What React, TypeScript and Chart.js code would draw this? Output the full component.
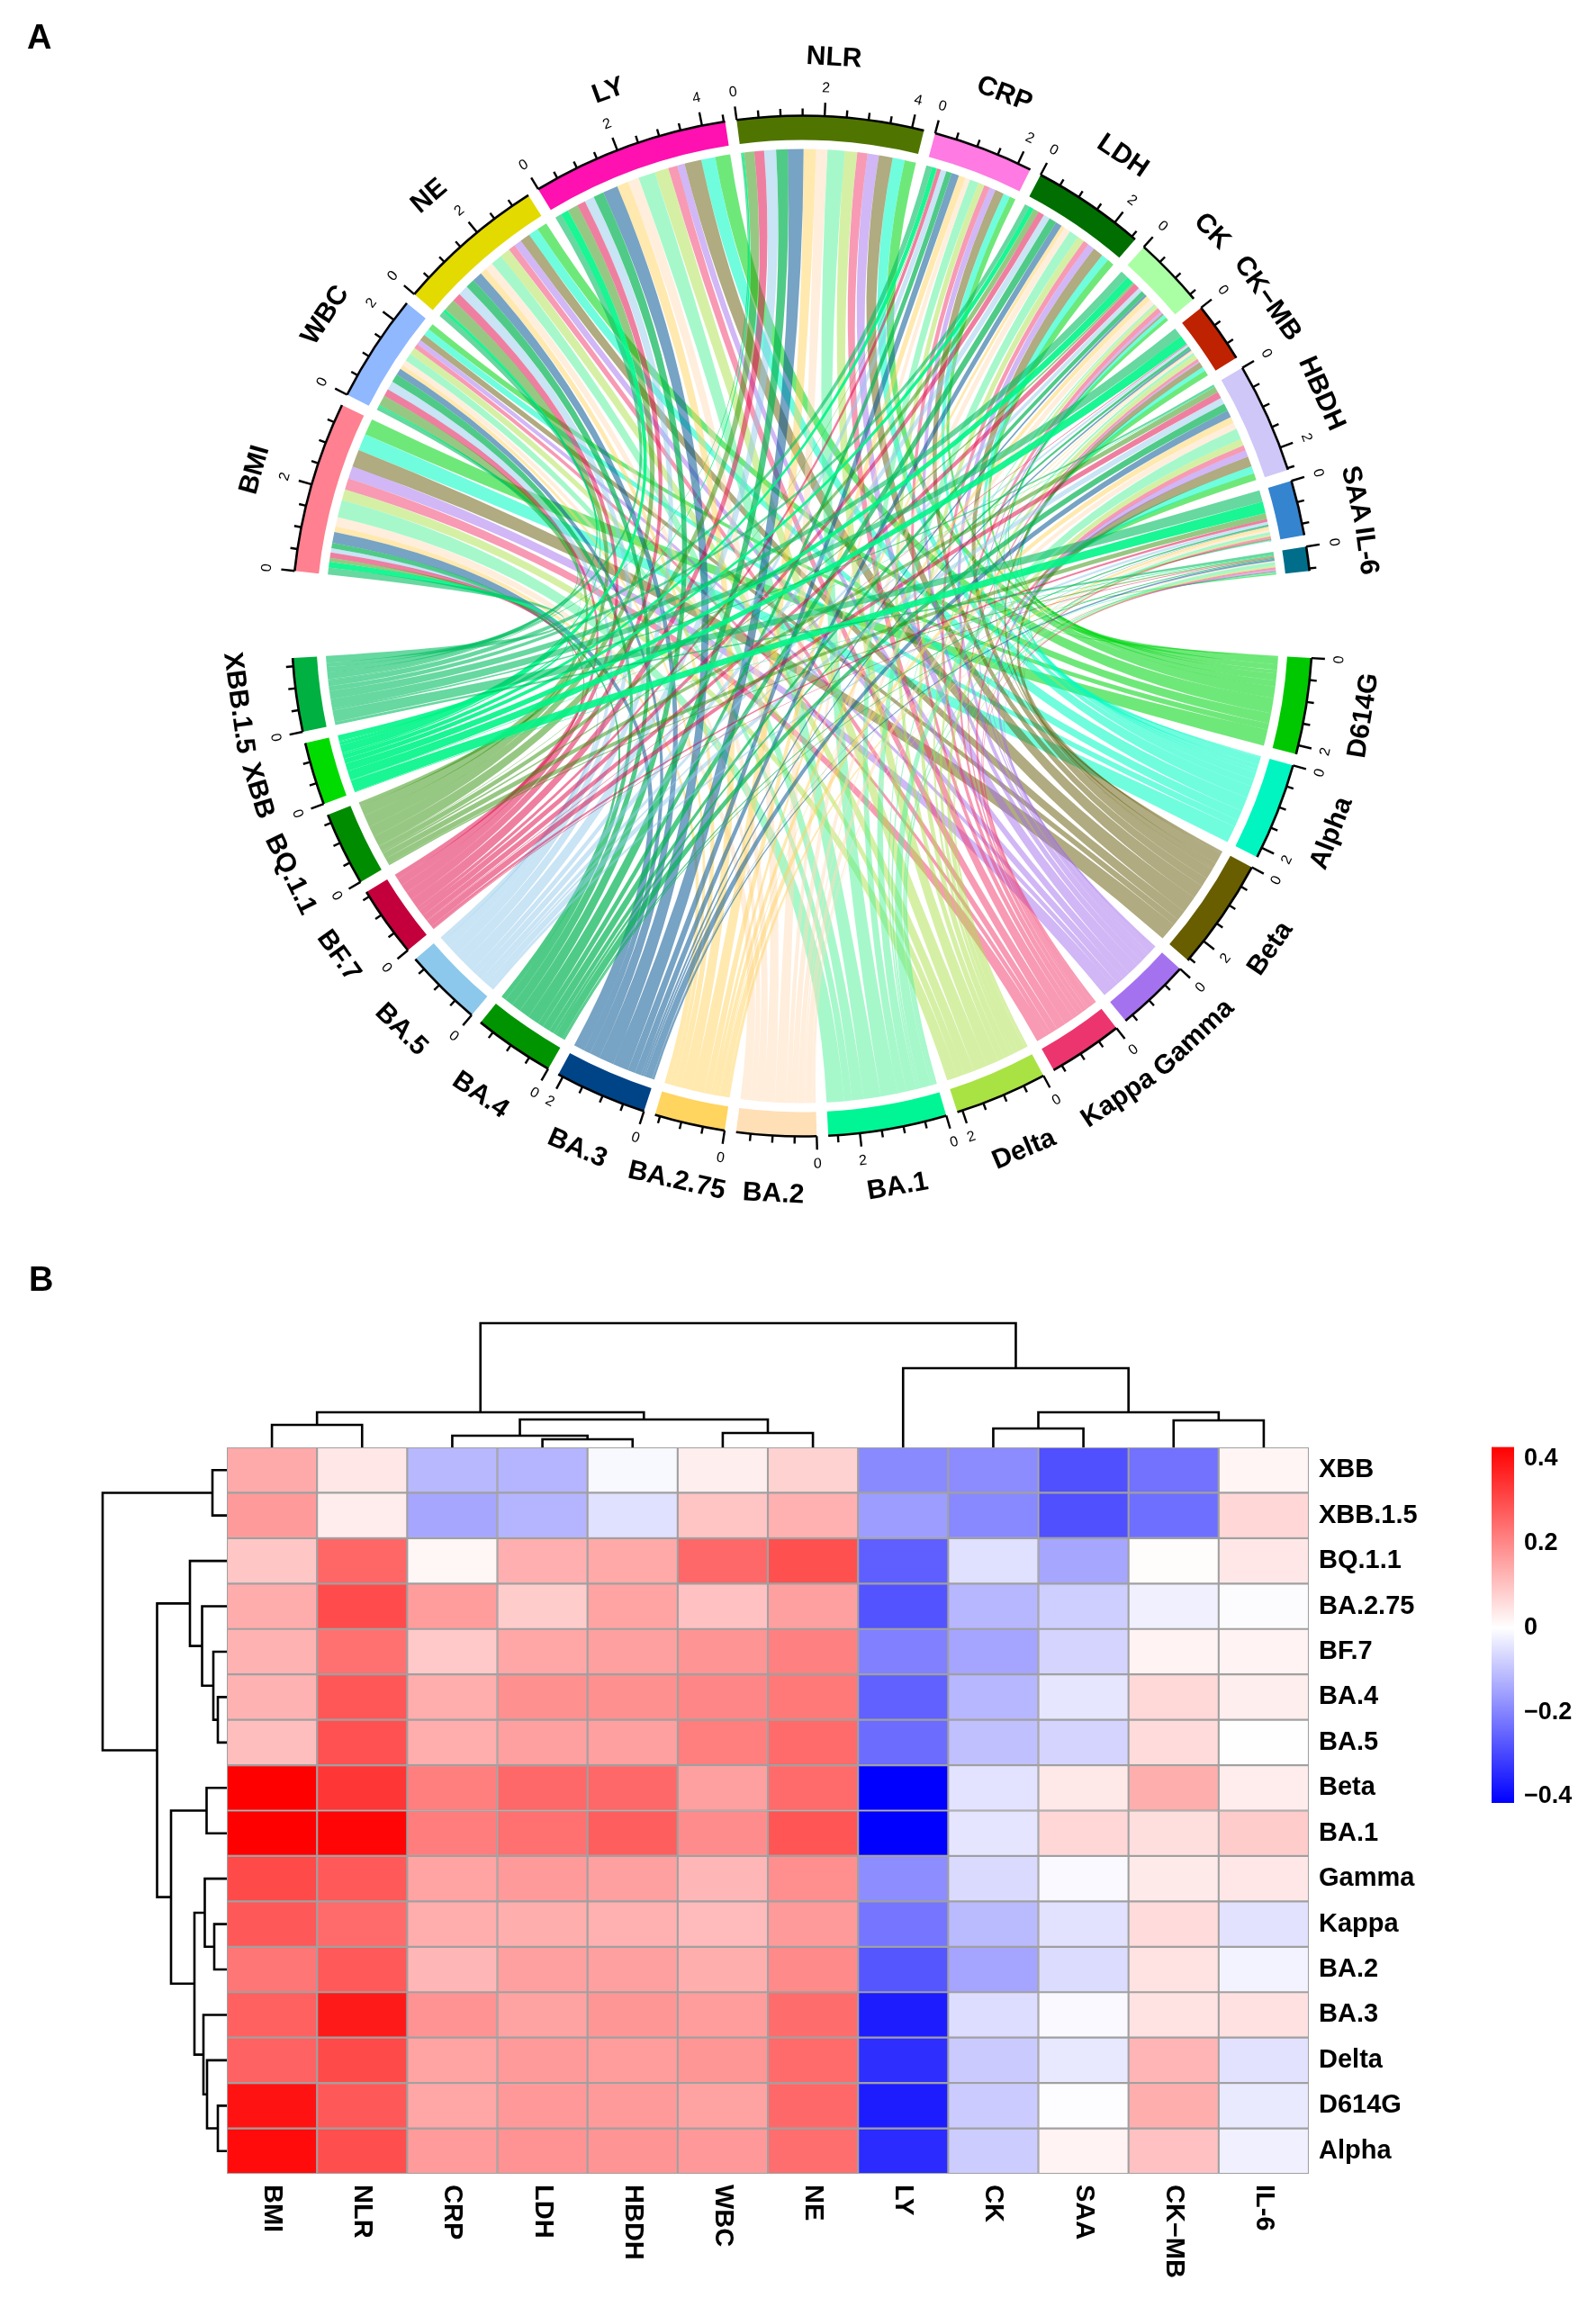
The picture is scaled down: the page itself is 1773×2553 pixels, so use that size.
import React, { useEffect, useRef } from "react";
import { Chart, registerables } from "chart.js";

Chart.register(...registerables);

const FONT = '"Liberation Sans", Arial, sans-serif';

// Heatmap axes
const heatColumns = ["BMI", "NLR", "CRP", "LDH", "HBDH", "WBC", "NE", "LY", "CK", "SAA", "CK−MB", "IL-6"];
const heatRows = ["XBB", "XBB.1.5", "BQ.1.1", "BA.2.75", "BF.7", "BA.4", "BA.5", "Beta", "BA.1", "Gamma", "Kappa", "BA.2", "BA.3", "Delta", "D614G", "Alpha"];

// Correlation values, one list per variant, in heatColumns order
const xbb = [0.143, 0.04, -0.115, -0.12, -0.012, 0.028, 0.075, -0.19, -0.187, -0.285, -0.23, 0.017];
const xbb15 = [0.17, 0.03, -0.145, -0.12, -0.05, 0.1, 0.132, -0.16, -0.194, -0.285, -0.235, 0.067];
const bq11 = [0.095, 0.256, 0.015, 0.135, 0.145, 0.254, 0.294, -0.26, -0.05, -0.145, 0.005, 0.04];
const ba275 = [0.14, 0.302, 0.165, 0.085, 0.155, 0.105, 0.16, -0.28, -0.117, -0.08, -0.025, -0.005];
const bf7 = [0.129, 0.238, 0.09, 0.15, 0.16, 0.18, 0.213, -0.205, -0.147, -0.07, 0.02, 0.02];
const ba4 = [0.129, 0.283, 0.138, 0.186, 0.186, 0.203, 0.226, -0.257, -0.117, -0.04, 0.066, 0.028];
const ba5 = [0.11, 0.292, 0.138, 0.16, 0.16, 0.215, 0.25, -0.24, -0.102, -0.07, 0.06, 0.002];
const beta = [0.428, 0.337, 0.215, 0.254, 0.254, 0.16, 0.25, -0.415, -0.045, 0.038, 0.136, 0.03];
const ba1 = [0.428, 0.42, 0.218, 0.24, 0.27, 0.193, 0.285, -0.415, -0.042, 0.067, 0.055, 0.085];
const gamma = [0.304, 0.279, 0.155, 0.17, 0.16, 0.122, 0.188, -0.185, -0.06, -0.01, 0.035, 0.04];
const kappa = [0.28, 0.251, 0.138, 0.136, 0.133, 0.115, 0.17, -0.225, -0.112, -0.047, 0.06, -0.047];
const ba2 = [0.23, 0.279, 0.123, 0.16, 0.16, 0.136, 0.196, -0.275, -0.147, -0.057, 0.048, -0.02];
const ba3 = [0.268, 0.385, 0.183, 0.156, 0.176, 0.166, 0.247, -0.37, -0.056, -0.01, 0.048, 0.05];
const delta = [0.264, 0.305, 0.155, 0.17, 0.166, 0.176, 0.25, -0.34, -0.087, -0.037, 0.125, -0.047];
const d614g = [0.398, 0.28, 0.15, 0.172, 0.17, 0.156, 0.254, -0.37, -0.085, -0.003, 0.136, -0.034];
const alpha = [0.41, 0.298, 0.168, 0.183, 0.18, 0.173, 0.244, -0.345, -0.083, 0.02, 0.105, -0.025];
const heatValues = [xbb, xbb15, bq11, ba275, bf7, ba4, ba5, beta, ba1, gamma, kappa, ba2, ba3, delta, d614g, alpha];

// Dendrogram merges: [left, right, height]; node < 100 is a leaf, node >= 100 is merge (node - 100)
const columnMerges = [
  [0, 1, 25], [3, 4, 9], [2, 101, 13], [5, 6, 16], [102, 103, 31], [100, 104, 39],
  [8, 9, 21], [10, 11, 30], [106, 107, 39], [7, 108, 88], [105, 109, 138],
];
const rowMerges = [
  [0, 1, 16], [5, 6, 10], [4, 101, 15], [3, 102, 27.5], [2, 103, 41], [7, 8, 22.5],
  [10, 11, 14], [9, 106, 24.5], [14, 15, 10], [13, 108, 22], [12, 109, 26], [107, 110, 36],
  [105, 111, 62], [104, 112, 77.5], [100, 113, 138],
];

// Chord diagram sectors, clockwise
const markerOrder = ["BMI", "WBC", "NE", "LY", "NLR", "CRP", "LDH", "CK", "CK−MB", "HBDH", "SAA", "IL-6"];
const markerColors = ["#FF8090", "#8FB8FF", "#E3DA00", "#FF10B0", "#4F7500", "#FF7AE2", "#006E00", "#AAFFA5", "#BF2200", "#CFC7F8", "#3584CF", "#006E8A"];
const variantOrder = ["D614G", "Alpha", "Beta", "Gamma", "Kappa", "Delta", "BA.1", "BA.2", "BA.2.75", "BA.3", "BA.4", "BA.5", "BF.7", "BQ.1.1", "XBB", "XBB.1.5"];
const variantColors = ["#00C800", "#00F5C0", "#685E00", "#A572EF", "#EC356E", "#A9E243", "#00F594", "#FFDFB5", "#FFD45F", "#004488", "#009400", "#8CC8EC", "#C4003C", "#008C00", "#00DC00", "#00B040"];
const ribbonColors = [
  "rgba(0,214,19,0.565)", "rgba(0,251,196,0.565)", "rgba(97,87,1,0.5)", "rgba(163,111,235,0.5)",
  "rgba(241,53,105,0.5)", "rgba(171,225,73,0.5)", "rgba(77,241,151,0.5)", "rgba(255,221,185,0.5)",
  "rgba(255,211,93,0.5)", "rgba(8,88,148,0.55)", "rgba(4,181,84,0.7)", "rgba(145,201,235,0.5)",
  "rgba(223,0,65,0.5)", "rgba(47,145,7,0.5)", "rgba(0,245,135,0.9)", "rgba(0,190,97,0.6)",
];

// Colour bar
const legendTicks = [-0.4, -0.2, 0, 0.2, 0.4];
const legendMin = -0.415;
const legendMax = 0.4286;

const heatColor = (v: number) => {
  if (v >= 0) {
    const g = Math.round(255 * (1 - v / legendMax));
    return `rgb(255,${g},${g})`;
  }
  const g = Math.round(255 * (1 + v / -legendMin));
  return `rgb(${g},${g},255)`;
};

const cell = (variant: string, marker: string) =>
  Math.abs(heatValues[heatRows.indexOf(variant)][heatColumns.indexOf(marker)]);

const markerTotals = markerOrder.map((m) => variantOrder.reduce((s, v) => s + cell(v, m), 0));
const variantTotals = variantOrder.map((v) => markerOrder.reduce((s, m) => s + cell(v, m), 0));
const grandTotal = markerTotals.reduce((a, b) => a + b, 0);

// Gaps are given in degrees and converted to data units of the doughnut
const sectorDegrees = 153.3;
const smallGap = (grandTotal * 1.3) / sectorDegrees;
const bigGap = (grandTotal * 9.8) / sectorDegrees;

const withGaps = (vals: number[]) => vals.flatMap((v, i) => (i < vals.length - 1 ? [v, smallGap] : [v]));
const ringData = [...withGaps(markerTotals), bigGap, ...withGaps(variantTotals), bigGap];
const ringColors = [
  ...markerColors.flatMap((c, i) => (i < markerColors.length - 1 ? [c, "rgba(0,0,0,0)"] : [c])),
  "rgba(0,0,0,0)",
  ...variantColors.flatMap((c, i) => (i < variantColors.length - 1 ? [c, "rgba(0,0,0,0)"] : [c])),
  "rgba(0,0,0,0)",
];
const ringLabels = [
  ...markerOrder.flatMap((c, i) => (i < markerOrder.length - 1 ? [c, ""] : [c])),
  "",
  ...variantOrder.flatMap((c, i) => (i < variantOrder.length - 1 ? [c, ""] : [c])),
  "",
];

const RIBBON_RATIO = 530 / 567;
const TICK_STEP = 0.5;
const MAJOR_STEP = 2;

const textRotation = (a: number) => (Math.sin(a) <= 0 ? a + Math.PI / 2 : a - Math.PI / 2);

const chordPlugin = {
  id: "chordPlugin",
  beforeDatasetsDraw(chart: any) {
    const arcs = chart.getDatasetMeta(0).data;
    const ctx = chart.ctx;
    const labels = chart.data.labels;
    const data = chart.data.datasets[0].data;
    const arcOf = (name: string) => arcs[labels.indexOf(name)];
    const perUnit = (arc: any, total: number) => (arc.endAngle - arc.startAngle) / total;

    const mRev = [...markerOrder].reverse();
    const vRev = [...variantOrder].reverse();
    // Marker sectors receive XBB.1.5 first, ... D614G last; variant sectors receive IL-6 first ... BMI last
    const markerStart: Record<string, Record<string, number>> = {};
    markerOrder.forEach((m) => {
      let pos = 0;
      markerStart[m] = {};
      vRev.forEach((v) => {
        markerStart[m][v] = pos;
        pos += cell(v, m);
      });
    });
    const variantStart: Record<string, Record<string, number>> = {};
    variantOrder.forEach((v) => {
      let pos = 0;
      variantStart[v] = {};
      mRev.forEach((m) => {
        variantStart[v][m] = pos;
        pos += cell(v, m);
      });
    });

    variantOrder.forEach((v, vi) => {
      const va = arcOf(v);
      const r = va.outerRadius * RIBBON_RATIO;
      const { x: cx, y: cy } = va;
      const vUnit = perUnit(va, data[labels.indexOf(v)]);
      ctx.fillStyle = ribbonColors[vi];
      markerOrder.forEach((m) => {
        const ma = arcOf(m);
        const mUnit = perUnit(ma, data[labels.indexOf(m)]);
        const w = cell(v, m);
        const a1 = ma.startAngle + markerStart[m][v] * mUnit;
        const a2 = a1 + w * mUnit;
        const b1 = va.startAngle + variantStart[v][m] * vUnit;
        const b2 = b1 + w * vUnit;
        ctx.beginPath();
        ctx.arc(cx, cy, r, a1, a2);
        ctx.quadraticCurveTo(cx, cy, cx + r * Math.cos(b1), cy + r * Math.sin(b1));
        ctx.arc(cx, cy, r, b1, b2);
        ctx.quadraticCurveTo(cx, cy, cx + r * Math.cos(a1), cy + r * Math.sin(a1));
        ctx.closePath();
        ctx.fill();
      });
    });
  },
  afterDatasetsDraw(chart: any) {
    const arcs = chart.getDatasetMeta(0).data;
    const ctx = chart.ctx;
    const labels = chart.data.labels;
    const data = chart.data.datasets[0].data;
    ctx.save();
    ctx.strokeStyle = "#000";
    ctx.fillStyle = "#000";
    labels.forEach((name: string, i: number) => {
      if (!name) return;
      const arc = arcs[i];
      const { x: cx, y: cy, outerRadius: R, startAngle, endAngle } = arc;
      const unit = (endAngle - startAngle) / data[i];
      ctx.lineWidth = 2.6;
      ctx.beginPath();
      ctx.arc(cx, cy, R, startAngle, endAngle);
      ctx.stroke();
      for (let k = 0; k * TICK_STEP <= data[i] + 1e-9; k++) {
        const val = k * TICK_STEP;
        const a = startAngle + val * unit;
        const major = val % MAJOR_STEP === 0;
        const len = major ? 15 : 8;
        const cos = Math.cos(a);
        const sin = Math.sin(a);
        ctx.lineWidth = 2.4;
        ctx.beginPath();
        ctx.moveTo(cx + R * cos, cy + R * sin);
        ctx.lineTo(cx + (R + len) * cos, cy + (R + len) * sin);
        ctx.stroke();
        if (major) {
          ctx.save();
          ctx.translate(cx + (R + 31) * cos, cy + (R + 31) * sin);
          ctx.rotate(textRotation(a));
          ctx.font = `16px ${FONT}`;
          ctx.textAlign = "center";
          ctx.textBaseline = "middle";
          ctx.fillText(String(val), 0, 0);
          ctx.restore();
        }
      }
      const mid = (startAngle + endAngle) / 2;
      ctx.save();
      ctx.translate(cx + (R + 65) * Math.cos(mid), cy + (R + 65) * Math.sin(mid));
      ctx.rotate(textRotation(mid));
      ctx.font = `bold 30px ${FONT}`;
      ctx.textAlign = "center";
      ctx.textBaseline = "middle";
      ctx.fillText(name, 0, 0);
      ctx.restore();
    });
    ctx.restore();
  },
};

const columnLabelPlugin = {
  id: "columnLabelPlugin",
  afterDraw(chart: any) {
    const { ctx, scales, chartArea } = chart;
    ctx.save();
    ctx.fillStyle = "#000";
    ctx.font = `bold 29px ${FONT}`;
    ctx.textAlign = "left";
    ctx.textBaseline = "middle";
    heatColumns.forEach((c, i) => {
      ctx.save();
      ctx.translate(scales.x.getPixelForValue(i), chartArea.bottom + 12);
      ctx.rotate(Math.PI / 2);
      ctx.fillText(c, 0, 0);
      ctx.restore();
    });
    ctx.restore();
  },
};

// Turn merges into bracket polylines. A leaf sits at the centre of its row or column.
const brackets = (merges: number[][]) => {
  const pos: number[] = [];
  const height: number[] = [];
  const out: { a: number; b: number; ha: number; hb: number; h: number }[] = [];
  merges.forEach(([l, r, h], i) => {
    const p = (n: number) => (n >= 100 ? pos[n - 100] : n + 0.5);
    const hh = (n: number) => (n >= 100 ? height[n - 100] : 0);
    pos[i] = (p(l) + p(r)) / 2;
    height[i] = h;
    out.push({ a: p(l), b: p(r), ha: hh(l), hb: hh(r), h });
  });
  return out;
};

const dendroStyle = {
  type: "line" as const,
  borderColor: "#000",
  borderWidth: 2.6,
  pointRadius: 0,
  tension: 0,
  fill: false,
  clip: false as const,
  borderJoinStyle: "miter" as const,
  order: -1,
};

export default function App() {
  const chordRef = useRef<HTMLCanvasElement>(null);
  const heatRef = useRef<HTMLCanvasElement>(null);
  const legendRef = useRef<HTMLCanvasElement>(null);

  useEffect(() => {
    const chord = new Chart(chordRef.current as any, {
      type: "doughnut",
      data: {
        labels: ringLabels,
        datasets: [{ data: ringData, backgroundColor: ringColors, borderWidth: 0, spacing: 0 }],
      },
      options: {
        animation: false,
        responsive: false,
        devicePixelRatio: 1,
        rotation: 276.2,
        cutout: 540,
        layout: { padding: { left: 324, top: 128.5, right: 315, bottom: 137.5 } },
        plugins: { legend: { display: false }, tooltip: { enabled: false } },
      } as any,
      plugins: [chordPlugin],
    } as any);

    const cellSets = heatRows.map((row, r) => ({
      type: "bar" as const,
      label: row,
      data: heatColumns.map(() => [r, r + 1]),
      backgroundColor: heatValues[r].map(heatColor),
      borderColor: "#A0A0A0",
      borderWidth: 1.4,
      borderSkipped: false,
      grouped: false,
      barPercentage: 1,
      categoryPercentage: 1,
      xAxisID: "x",
      yAxisID: "y",
    }));
    const colSets = brackets(columnMerges).map((b) => ({
      ...dendroStyle,
      data: [
        { x: b.a, y: b.ha },
        { x: b.a, y: b.h },
        { x: b.b, y: b.h },
        { x: b.b, y: b.hb },
      ],
      xAxisID: "xCol",
      yAxisID: "yCol",
    }));
    const rowSets = brackets(rowMerges).map((b) => ({
      ...dendroStyle,
      data: [
        { x: b.ha, y: b.a },
        { x: b.h, y: b.a },
        { x: b.h, y: b.b },
        { x: b.hb, y: b.b },
      ],
      xAxisID: "xRow",
      yAxisID: "y",
    }));

    const heat = new Chart(heatRef.current as any, {
      type: "bar",
      data: { labels: heatColumns, datasets: [...cellSets, ...colSets, ...rowSets] },
      options: {
        animation: false,
        responsive: false,
        devicePixelRatio: 1,
        layout: { padding: { left: 252, top: 208, right: 119, bottom: 138 } },
        plugins: { legend: { display: false }, tooltip: { enabled: false } },
        scales: {
          x: {
            type: "category",
            offset: true,
            grid: { display: false, drawTicks: false },
            border: { display: false },
            ticks: { display: false },
          },
          y: { type: "linear", min: 0, max: heatRows.length, reverse: true, display: false },
          yLabels: {
            type: "category",
            labels: heatRows,
            position: "right",
            offset: true,
            grid: { display: false, drawTicks: false },
            border: { display: false },
            ticks: { autoSkip: false, padding: 11, color: "#000", font: { family: FONT, weight: "bold", size: 29 } },
            afterFit: (s: any) => { s.width = 200; },
          },
          xCol: { type: "linear", min: 0, max: heatColumns.length, display: false, offset: false, grid: { offset: false } },
          yCol: { type: "linear", min: -807, max: 0, display: false },
          xRow: { type: "linear", min: -1202, max: 0, reverse: true, display: false, offset: false, grid: { offset: false } },
        },
      } as any,
      plugins: [columnLabelPlugin],
    } as any);

    const legend = new Chart(legendRef.current as any, {
      type: "bar",
      data: {
        labels: ["scale"],
        datasets: [{
          data: [[legendMin, legendMax]],
          barPercentage: 1,
          categoryPercentage: 1,
          borderWidth: 0,
          backgroundColor: (c: any) => {
            const { ctx, chartArea } = c.chart;
            if (!chartArea) return "#fff";
            const g = ctx.createLinearGradient(0, chartArea.bottom, 0, chartArea.top);
            g.addColorStop(0, "#0000FF");
            g.addColorStop(-legendMin / (legendMax - legendMin), "#FFFFFF");
            g.addColorStop(1, "#FF0000");
            return g;
          },
        }],
      },
      options: {
        animation: false,
        responsive: false,
        devicePixelRatio: 1,
        layout: { padding: { left: 57, top: 47.5, right: 0, bottom: 57 } },
        plugins: { legend: { display: false }, tooltip: { enabled: false } },
        scales: {
          x: { type: "category", display: false },
          y: {
            type: "linear",
            position: "right",
            min: legendMin,
            max: legendMax,
            grid: { display: false, drawTicks: false },
            border: { display: false },
            afterBuildTicks: (s: any) => { s.ticks = legendTicks.map((value) => ({ value })); },
            afterFit: (s: any) => { s.width = 91; },
            ticks: {
              padding: 11,
              color: "#000",
              font: { family: FONT, weight: "bold", size: 27 },
              callback: (v: number) => (v < 0 ? `−${Math.abs(v).toFixed(1)}` : v === 0 ? "0" : v.toFixed(1)),
            },
          },
        },
      } as any,
    } as any);

    return () => {
      chord.destroy();
      heat.destroy();
      legend.destroy();
    };
  }, []);

  const abs = (left: number, top: number) => ({ position: "absolute" as const, left, top });
  const letter = { fontFamily: FONT, fontWeight: "bold" as const, fontSize: 38, lineHeight: "38px", color: "#000" };

  return (
    <div style={{ position: "absolute", left: 0, top: 0, width: 1773, height: 2553, background: "#fff", overflow: "hidden" }}>
      <canvas ref={chordRef} width={1773} height={1400} style={abs(0, 0)} />
      <canvas ref={heatRef} width={1773} height={1153} style={abs(0, 1400)} />
      <canvas ref={legendRef} width={173} height={500} style={abs(1600, 1560)} />
      <div style={{ ...abs(30, 22), ...letter }}>A</div>
      <div style={{ ...abs(32, 1402), ...letter }}>B</div>
    </div>
  );
}
